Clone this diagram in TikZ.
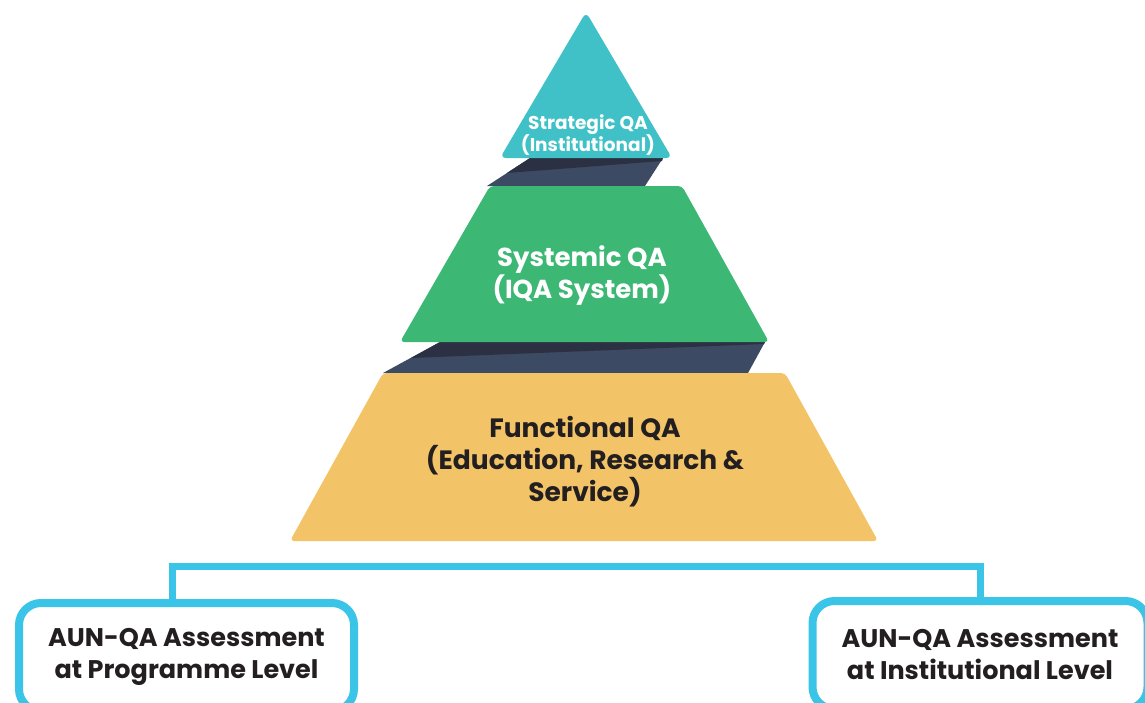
\documentclass[tikz,border=0pt]{standalone}
\usepackage{fontspec}
\setmainfont{Poppins}
\definecolor{tealc}{HTML}{40C1C7}
\definecolor{greenc}{HTML}{3CB774}
\definecolor{yellowc}{HTML}{F3C467}
\definecolor{bandc}{HTML}{3D4A63}
\definecolor{banddc}{HTML}{2B3142}
\definecolor{linec}{HTML}{3AC4E8}
\definecolor{textc}{HTML}{231F20}
\begin{document}
\begin{tikzpicture}[x=1pt,y=-1pt,
  layer/.style={rounded corners=4pt},
  lbl/.style={align=center,font=\bfseries\fontsize{26}{32}\selectfont,inner sep=0pt},
  boxs/.style={draw=linec,line width=8pt,rounded corners=22pt,fill=white,
    minimum width=335pt,minimum height=108pt,align=center,text=textc,
    font=\bfseries\fontsize{25.5}{32}\selectfont},
  conn/.style={draw=linec,line width=7pt}]
\clip (0,0) rectangle (1145,702);
\fill[white] (0,0) rectangle (1145,702);
% dark bands
\fill[bandc] (530,158) -- (663,158) -- (645,186) -- (487,186) -- cycle;
\fill[banddc] (530,158) -- (663,158) -- (662,161) -- (507,173) -- cycle;
\fill[bandc] (440,342) -- (765,342) -- (748,373) -- (383,373) -- cycle;
\fill[banddc] (440,342) -- (765,342) -- (764,344) -- (411,358) -- cycle;
% layers
\fill[tealc,layer,rounded corners=6pt] (586,12) -- (672,158) -- (500,158) -- cycle;
\fill[greenc,layer] (490,186) -- (682,186) -- (769,342) -- (400,342) -- cycle;
\fill[yellowc,layer] (383,373) -- (785,373) -- (878,541) -- (290,541) -- cycle;
% labels
\node[lbl,text=white,font=\bfseries\fontsize{18.5}{22}\selectfont] (strat) at (588,135) {Strategic QA\\(Institutional)};
\node[lbl,text=white] (syst) at (582,276) {Systemic QA\\(IQA System)};
\node[lbl,text=textc,font=\bfseries\fontsize{26.5}{32}\selectfont] (func) at (585,462) {Functional QA\\(Education, Research \&\\Service)};
% boxes
\node[boxs] (lbox) at (186.5,657) {AUN-QA Assessment\\at Programme Level};
\node[boxs] (rbox) at (980,655) {AUN-QA Assessment\\at Institutional Level};
\coordinate (brk) at (580,566);
\coordinate (legL) at (172,566);
\draw[conn] (lbox.north -| legL) |- (brk) -| (rbox.north);
\end{tikzpicture}
\end{document}
